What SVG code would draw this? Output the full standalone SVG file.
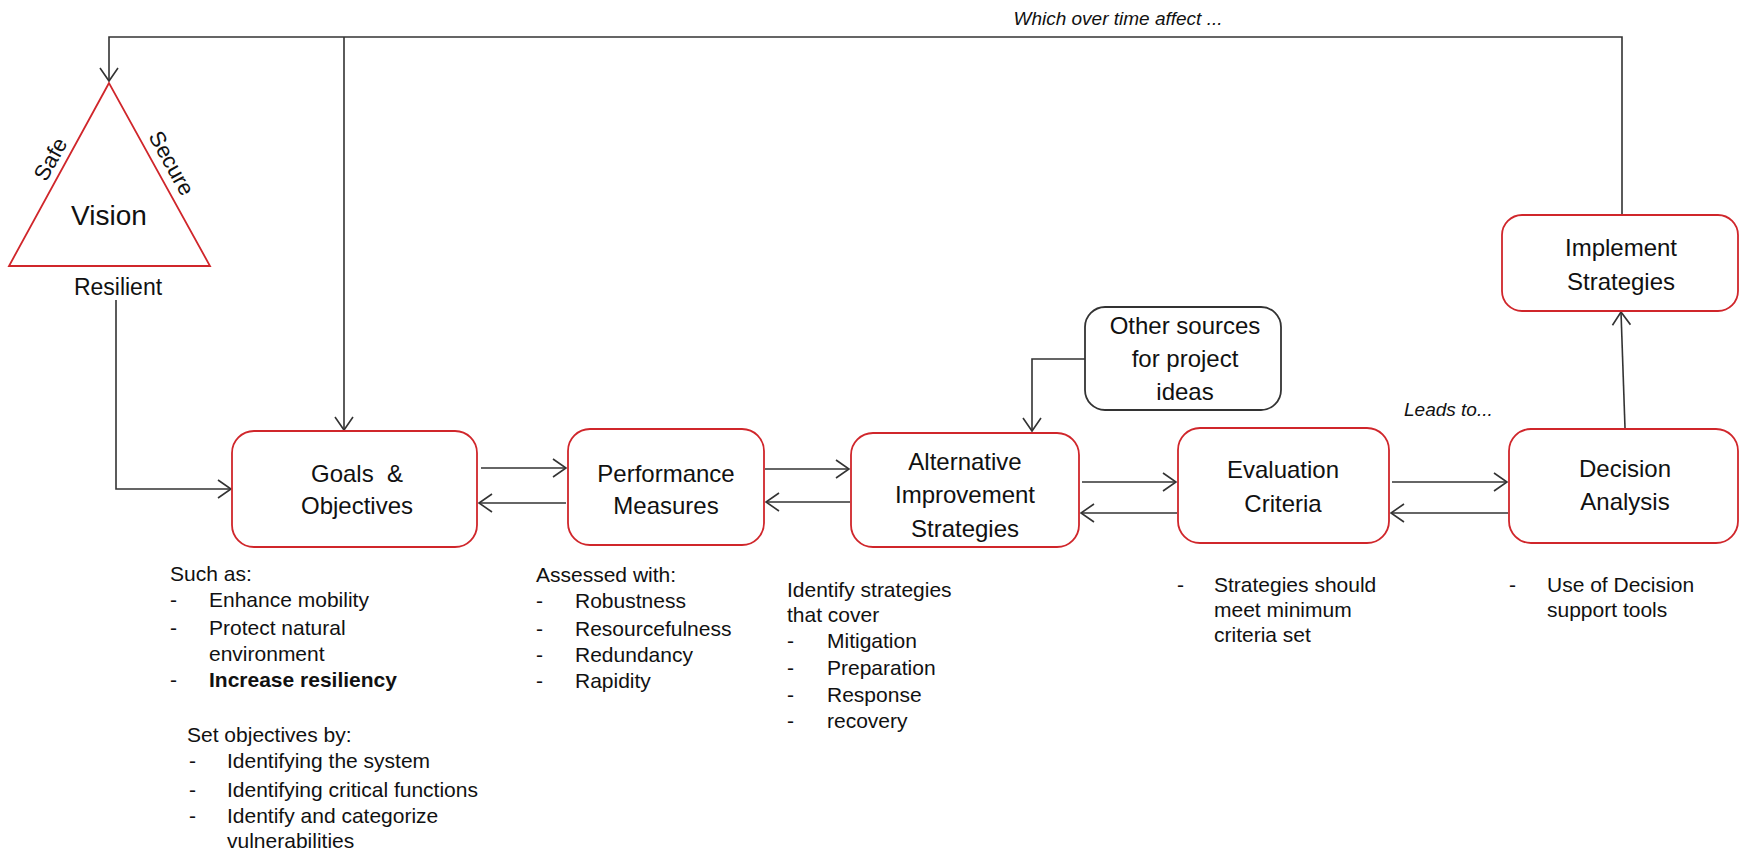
<svg xmlns="http://www.w3.org/2000/svg" width="1740" height="853" viewBox="0 0 1740 853">
<style>
.box{fill:#fff;stroke:#d0262b;stroke-width:1.8}
.bbox{fill:#fff;stroke:#333;stroke-width:1.8}
.lbl{font-family:"Liberation Sans",Arial,sans-serif;font-size:24px;fill:#111;text-anchor:middle}
.sm{font-family:"Liberation Sans",Arial,sans-serif;font-size:21px;fill:#111}
.it{font-family:"Liberation Sans",Arial,sans-serif;font-size:19px;font-style:italic;fill:#111}
.con{fill:none;stroke:#333;stroke-width:1.6}
</style>
<defs>
<marker id="ah" markerUnits="userSpaceOnUse" markerWidth="16" markerHeight="20" refX="14" refY="10" orient="auto">
<path d="M1,1 L14,10 L1,19" fill="none" stroke="#333" stroke-width="1.6"/>
</marker>
</defs>

<g id="connectors">
<path class="con" d="M1622,215 V37 H109 V81" marker-end="url(#ah)"/>
<path class="con" d="M344,37 V430" marker-end="url(#ah)"/>
<path class="con" d="M116,300 V489 H231" marker-end="url(#ah)"/>
<path class="con" d="M481,468 H566" marker-end="url(#ah)"/>
<path class="con" d="M566,503 H479" marker-end="url(#ah)"/>
<path class="con" d="M765,469 H849" marker-end="url(#ah)"/>
<path class="con" d="M850,502 H766" marker-end="url(#ah)"/>
<path class="con" d="M1082,482 H1176" marker-end="url(#ah)"/>
<path class="con" d="M1177,513 H1081" marker-end="url(#ah)"/>
<path class="con" d="M1392,482 H1507" marker-end="url(#ah)"/>
<path class="con" d="M1508,513 H1391" marker-end="url(#ah)"/>
<path class="con" d="M1085,359 H1032 V431" marker-end="url(#ah)"/>
<path class="con" d="M1625,428 L1621,312" marker-end="url(#ah)"/>
<text class="it" x="1118" y="25" text-anchor="middle">Which over time affect ...</text>
<text class="it" x="1404" y="416">Leads to...</text>
</g>

<g id="vision">
<polygon points="109,83 9,266 210,266" fill="#fff" stroke="#d0262b" stroke-width="1.8"/>
<text x="109" y="225" font-family="Liberation Sans, Arial, sans-serif" font-size="28" fill="#111" text-anchor="middle">Vision</text>
<text x="0" y="0" transform="translate(52,160) rotate(-61)" font-family="Liberation Sans, Arial, sans-serif" font-size="22" fill="#111" text-anchor="middle" dominant-baseline="middle">Safe</text>
<text x="0" y="0" transform="translate(170,164) rotate(61)" font-family="Liberation Sans, Arial, sans-serif" font-size="22" fill="#111" text-anchor="middle" dominant-baseline="middle">Secure</text>
<text x="118" y="295" font-family="Liberation Sans, Arial, sans-serif" font-size="23" fill="#111" text-anchor="middle">Resilient</text>
</g>

<g id="goals">
<rect class="box" x="232" y="431" width="245" height="116" rx="22"/>
<text class="lbl" x="357" y="482">Goals&#160; &amp;</text>
<text class="lbl" x="357" y="514">Objectives</text>
</g>

<g id="performance">
<rect class="box" x="568" y="429" width="196" height="116" rx="22"/>
<text class="lbl" x="666" y="482">Performance</text>
<text class="lbl" x="666" y="514">Measures</text>
</g>

<g id="alternative">
<rect class="box" x="851" y="433" width="228" height="114" rx="22"/>
<text class="lbl" x="965" y="470">Alternative</text>
<text class="lbl" x="965" y="503">Improvement</text>
<text class="lbl" x="965" y="537">Strategies</text>
</g>

<g id="evaluation">
<rect class="box" x="1178" y="428" width="211" height="115" rx="22"/>
<text class="lbl" x="1283" y="478">Evaluation</text>
<text class="lbl" x="1283" y="512">Criteria</text>
</g>

<g id="decision">
<rect class="box" x="1509" y="429" width="229" height="114" rx="22"/>
<text class="lbl" x="1625" y="477">Decision</text>
<text class="lbl" x="1625" y="510">Analysis</text>
</g>

<g id="implement">
<rect class="box" x="1502" y="215" width="236" height="96" rx="20"/>
<text class="lbl" x="1621" y="256">Implement</text>
<text class="lbl" x="1621" y="290">Strategies</text>
</g>

<g id="other-sources">
<rect class="bbox" x="1085" y="307" width="196" height="103" rx="20"/>
<text class="lbl" x="1185" y="334">Other sources</text>
<text class="lbl" x="1185" y="367">for project</text>
<text class="lbl" x="1185" y="400">ideas</text>
</g>

<g id="goals-notes" class="sm">
<text x="170" y="581">Such as:</text>
<text x="170" y="607">-</text><text x="209" y="607">Enhance mobility</text>
<text x="170" y="635">-</text><text x="209" y="635">Protect natural</text>
<text x="209" y="661">environment</text>
<text x="170" y="687">-</text><text x="209" y="687" font-weight="bold">Increase resiliency</text>
<text x="187" y="742">Set objectives by:</text>
<text x="189" y="768">-</text><text x="227" y="768">Identifying the system</text>
<text x="189" y="797">-</text><text x="227" y="797">Identifying critical functions</text>
<text x="189" y="823">-</text><text x="227" y="823">Identify and categorize</text>
<text x="227" y="848">vulnerabilities</text>
</g>

<g id="performance-notes" class="sm">
<text x="536" y="582">Assessed with:</text>
<text x="536" y="608">-</text><text x="575" y="608">Robustness</text>
<text x="536" y="636">-</text><text x="575" y="636">Resourcefulness</text>
<text x="536" y="662">-</text><text x="575" y="662">Redundancy</text>
<text x="536" y="688">-</text><text x="575" y="688">Rapidity</text>
</g>

<g id="alternative-notes" class="sm">
<text x="787" y="597">Identify strategies</text>
<text x="787" y="622">that cover</text>
<text x="787" y="648">-</text><text x="827" y="648">Mitigation</text>
<text x="787" y="675">-</text><text x="827" y="675">Preparation</text>
<text x="787" y="702">-</text><text x="827" y="702">Response</text>
<text x="787" y="728">-</text><text x="827" y="728">recovery</text>
</g>

<g id="evaluation-notes" class="sm">
<text x="1177" y="592">-</text><text x="1214" y="592">Strategies should</text>
<text x="1214" y="617">meet minimum</text>
<text x="1214" y="642">criteria set</text>
</g>

<g id="decision-notes" class="sm">
<text x="1509" y="592">-</text><text x="1547" y="592">Use of Decision</text>
<text x="1547" y="617">support tools</text>
</g>
</svg>
